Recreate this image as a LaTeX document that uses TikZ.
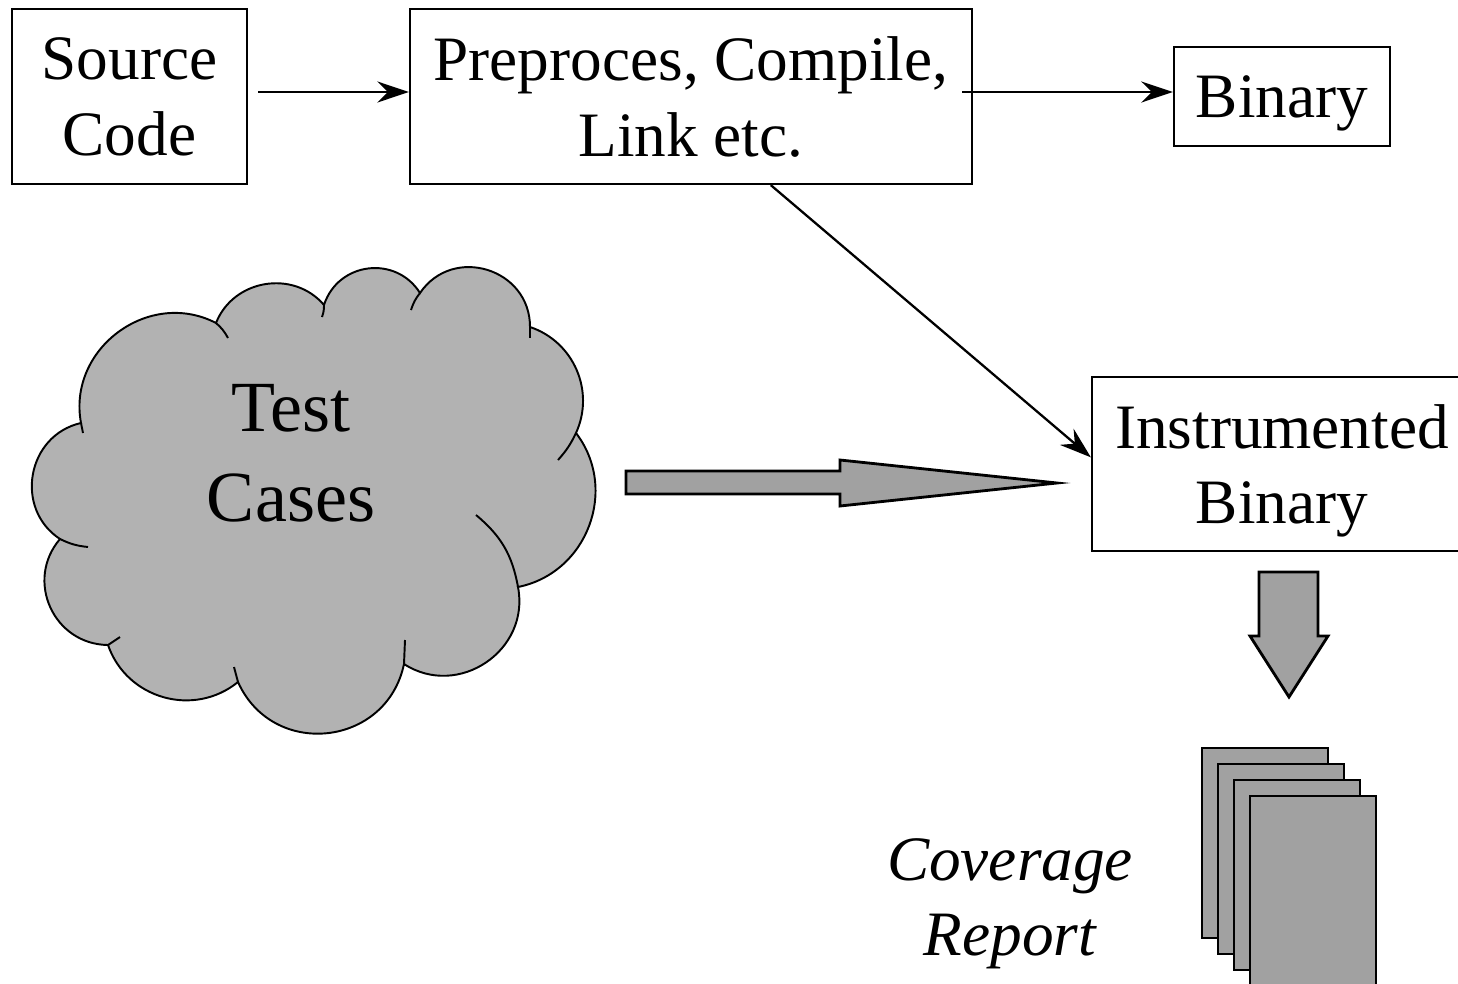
\documentclass[tikz,border=0pt]{standalone}
\usepackage{fontspec}
\setmainfont{Liberation Serif}
\usetikzlibrary{arrows.meta}
\definecolor{arrowgray}{gray}{0.63}
\definecolor{cloudgray}{gray}{0.70}
\tikzset{
  box/.style={draw, line width=1.3pt, align=center, inner sep=0pt, text depth=0pt,
    font=\fontsize{36pt}{43pt}\selectfont},
  arr/.style={line width=1.3pt, -{Stealth[length=18pt, width=12pt, inset=6pt]}},
  blockarrow/.style={draw, line width=1.6pt, fill=arrowgray, line join=miter},
  page/.style={draw, line width=1.5pt, fill=arrowgray}
}
\begin{document}
\begin{tikzpicture}[x=0.02cm, y=0.02cm]
    \useasboundingbox (0,0) rectangle (1458,-984);
    \clip (0,0) rectangle (1458,-984);

    % Draw boxes
    \node[box, minimum width=4.7cm, minimum height=3.5cm] (src) at (129.5,-96.5) {Source\\Code};
    \node[box, minimum width=11.24cm, minimum height=3.5cm] (pre) at (691,-96.5) {Preproces, Compile,\\Link etc.};
    \node[box, minimum width=4.32cm, minimum height=1.98cm] (bin) at (1282,-96.5) {Binary};
    \node[box, minimum width=7.6cm, minimum height=3.48cm] (instr) at (1282,-464) {Instrumented\\Binary};

    % Add arrows between boxes
    \draw[arr] ([xshift=0.2cm, yshift=0.09cm]src.east) -- ([yshift=0.09cm]pre.west);
    \draw[arr] ([xshift=-0.22cm, yshift=0.09cm]pre.east) -- ([yshift=0.09cm]bin.west);
    \draw[arr] (pre.-48.7) -- (instr.178);

    % Draw cloud
    \filldraw[fill=cloudgray, line width=1.1pt]
      (81,-423) to[bend left=64, looseness=1.15] (216,-323)
      to[bend left=59, looseness=1.1] (324,-305)
      to[bend left=65, looseness=1.2] (420,-293)
      to[bend left=73, looseness=1.3] (530,-327)
      to[bend left=48, looseness=1.02] (576,-433)
      to[bend left=58, looseness=1.1] (518,-587)
      to[bend left=67, looseness=1.2] (404,-664)
      to[bend left=72, looseness=1.3] (238,-682)
      to[bend left=55, looseness=1.08] (108,-645)
      to[bend left=65, looseness=1.2] (60,-539)
      to[bend left=67, looseness=1.2] (81,-423) -- cycle;
    \draw[line width=1.1pt] (81,-423) -- (83,-433);
    \draw[line width=1.1pt] (216,-323) to[bend left=10] (228,-338);
    \draw[line width=1.1pt] (324,-305) to[bend left=10] (322,-317);
    \draw[line width=1.1pt] (411,-310) to[bend left=10] (420,-293);
    \draw[line width=1.1pt] (530,-327) -- (530,-338);
    \draw[line width=1.1pt] (576,-433) to[bend left=8] (558,-460);
    \draw[line width=1.1pt] (476,-515) to[bend left=20] (518,-587);
    \draw[line width=1.1pt] (405,-640) -- (404,-664);
    \draw[line width=1.1pt] (238,-682) -- (234,-667);
    \draw[line width=1.1pt] (120,-637) -- (108,-645);
    \draw[line width=1.1pt] (60,-539) to[bend right=10] (88,-547);
    \node[align=center, text depth=0pt, font=\fontsize{41pt}{51pt}\selectfont] (test) at (291,-453) {Test\\Cases};

    % Draw block arrows
    \draw[blockarrow] (626,-471) -- (840,-471) -- (840,-460) -- (1057,-483) -- (840,-506) -- (840,-494) -- (626,-494) -- cycle;
    \draw[blockarrow] (1259,-572) -- (1318,-572) -- (1318,-636) -- (1328,-636) -- (1289,-697) -- (1250,-636) -- (1259,-636) -- cycle;

    % Draw report pages
    \foreach \i in {0,1,2,3}
      \draw[page] (1202+16*\i,-748-16*\i) rectangle (1328+16*\i,-938-16*\i);
    \node[align=center, text depth=0pt, font=\fontsize{36pt}{43pt}\selectfont\itshape] (report) at (1010,-897) {Coverage\\Report};
\end{tikzpicture}
\end{document}
